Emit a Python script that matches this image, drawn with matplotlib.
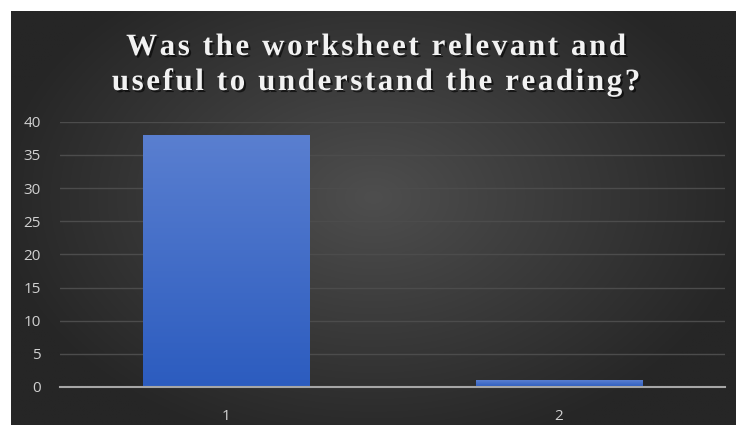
import numpy as np
import matplotlib
matplotlib.use("Agg")
import matplotlib.pyplot as plt
import matplotlib.patheffects as pe
from matplotlib.colors import LinearSegmentedColormap

categories = ["1", "2"]
values = [38, 1]
yticks = [0, 5, 10, 15, 20, 25, 30, 35, 40]
title_lines = ["Was the worksheet relevant and", "useful to understand the reading?"]

W, H = 736, 425
fig = plt.figure(figsize=(W / 100, H / 100), dpi=100)
fig.patch.set_facecolor("white")

# background panel with radial gradient
bg = fig.add_axes([11 / W, 0, 1 - 11 / W, 1 - 11 / H], zorder=0)
yy, xx = np.mgrid[0:1:300j, 0:1:500j]
r = np.sqrt(((xx - 0.5) / 0.75) ** 2 + ((yy - 0.55) / 0.9) ** 2)
g = np.clip(1 - r / 0.7, 0, 1)
c0 = np.array([0x26, 0x26, 0x26]) / 255
c1 = np.array([0x4e, 0x4e, 0x4e]) / 255
img = c0[None, None, :] + (c1 - c0)[None, None, :] * g[..., None]
bg.imshow(img, aspect="auto", extent=[0, 1, 0, 1], origin="lower")
bg.set_axis_off()

ax = fig.add_axes([60 / W, 1 - 387 / H, 665 / W, (387 - 121.7) / H], zorder=1)
ax.patch.set_alpha(0)
x = np.arange(len(categories))
bars = ax.bar(x, values, width=0.5, color="#4472c4", zorder=2)
cmap = LinearSegmentedColormap.from_list("b", ["#2c5cbf", "#5a7fd0"])
grad = np.linspace(0, 1, 256).reshape(-1, 1)
for b in bars:
    x0, y0 = b.get_x(), b.get_y()
    w, h = b.get_width(), b.get_height()
    im = ax.imshow(grad, cmap=cmap, aspect="auto", origin="lower",
                   extent=[x0, x0 + w, y0, y0 + h], zorder=2.5)
    im.set_clip_path(b)
ax.set_xlim(-0.5, 1.5)
ax.set_ylim(0, 40)
ax.set_yticks(yticks)
ax.set_xticks(x)
ax.set_xticklabels(categories)
ax.yaxis.grid(True, color="#4c4c4c", linewidth=1.0, zorder=0)
ax.set_axisbelow(True)
for s in ["top", "right", "left"]:
    ax.spines[s].set_visible(False)
ax.spines["bottom"].set_color("#a6a6a6")
ax.spines["bottom"].set_linewidth(1.5)
ax.spines["bottom"].set_zorder(3)
ax.tick_params(axis="both", length=0, colors="#d0d0d0", labelsize=11)
ax.tick_params(axis="y", pad=14)
ax.tick_params(axis="x", pad=16)
for lab in ax.get_xticklabels() + ax.get_yticklabels():
    lab.set_fontfamily("Open Sans")

sp = "\u200a"
for i, line in enumerate(title_lines):
    spaced = sp.join(line)
    fig.text(377 / W, 1 - (55 + 35 * i) / H, spaced, ha="center", va="baseline", color="#f2f2f2",
             fontsize=22.3, fontweight="bold", family="Liberation Serif",
             path_effects=[pe.withSimplePatchShadow(offset=(1.5, -1.5), shadow_rgbFace="black", alpha=0.6)])

fig.savefig("out.png", dpi=100, facecolor=fig.get_facecolor())
